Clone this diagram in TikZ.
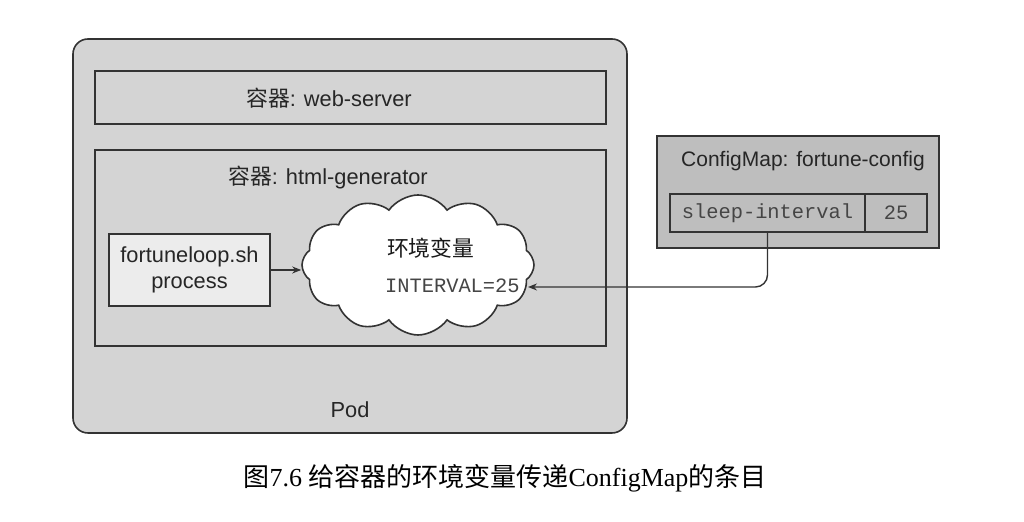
\documentclass[tikz,border=0pt]{standalone}
\usepackage{fontspec}
\setmainfont{Liberation Sans}
\setmonofont{Liberation Mono}
\newfontfamily\cjk{Noto Sans CJK SC}
\newfontfamily\capfont{Liberation Serif}
\usetikzlibrary{shapes.symbols,arrows.meta,positioning}

\definecolor{podfill}{HTML}{D4D4D4}
\definecolor{cmfill}{HTML}{BEBEBE}
\definecolor{procfill}{HTML}{ECECEC}
\definecolor{edge}{HTML}{333333}
\definecolor{monotxt}{HTML}{454545}
\newcommand{\zh}[1]{{\cjk #1}}

\begin{document}
\begin{tikzpicture}[x=0.5pt, y=-0.5pt,
    box/.style={draw=edge, line width=0.8pt, fill=podfill},
    lbl/.style={font=\fontsize{10.9}{13}\selectfont, text=black!85},
    code/.style={font=\ttfamily\fontsize{10.2}{12}\selectfont, text=monotxt},
    cell/.style={draw=edge, line width=0.8pt, fill=cmfill, minimum height=19pt, inner sep=0pt, outer sep=0pt},
    conn/.style={draw=edge, line width=0.7pt, -{Stealth[length=4.5pt, width=3.5pt]}}]
    \useasboundingbox (0,0) rectangle (1024,522);

    % Pod
    \draw[box, rounded corners=7.5pt] (73,39) rectangle (627,433);
    \node[lbl] (podlbl) at (350,410) {Pod};

    % Container: web-server
    \draw[box] (95,71) rectangle (606,124);
    \node[lbl] (weblbl) at (329,98) {\zh{容器}: web-server};

    % Container: html-generator
    \draw[box] (95,150) rectangle (606,346);
    \node[lbl] (htmllbl) at (328,178) {\zh{容器}: html-generator};

    % process and environment
    \node[draw=edge, line width=0.8pt, fill=procfill, lbl, align=center,
          minimum width=80.5pt, minimum height=36pt] (proc) at (189.5,270)
          {fortuneloop.sh\\process};
    \node[cloud, draw=edge, line width=0.8pt, fill=white, cloud puffs=12,
          cloud puff arc=110, cloud ignores aspect,
          minimum width=116pt, minimum height=70pt] (env) at (418,265) {};
    \node[lbl, anchor=west, text=black!90] (envname) at (380,248) {\zh{环境变量}};
    \node[code, anchor=west] (envval) at (378,286) {INTERVAL=25};
    \draw[conn] (proc.east) -- (proc.east -| env.west);

    % ConfigMap
    \draw[box, fill=cmfill] (657,136) rectangle (939,248);
    \node[lbl, font=\fontsize{10.5}{13}\selectfont] (cmlbl) at (803,161) {ConfigMap: fortune-config};
    \node[cell, code, minimum width=97.5pt] (key) at (767.5,213) {sleep-interval};
    \node[cell, code, minimum width=31pt, right=0pt of key] (val) {25};

    % entry -> env variable
    \coordinate (tip) at (528,287);
    \draw[conn, rounded corners=6pt] (key.south) |- (tip);

    % caption
    \node[font=\capfont\fontsize{13}{15}\selectfont] (caption) at (505,478)
        {\zh{图}7.6 \zh{给容器的环境变量传递}ConfigMap\zh{的条目}};
\end{tikzpicture}
\end{document}
